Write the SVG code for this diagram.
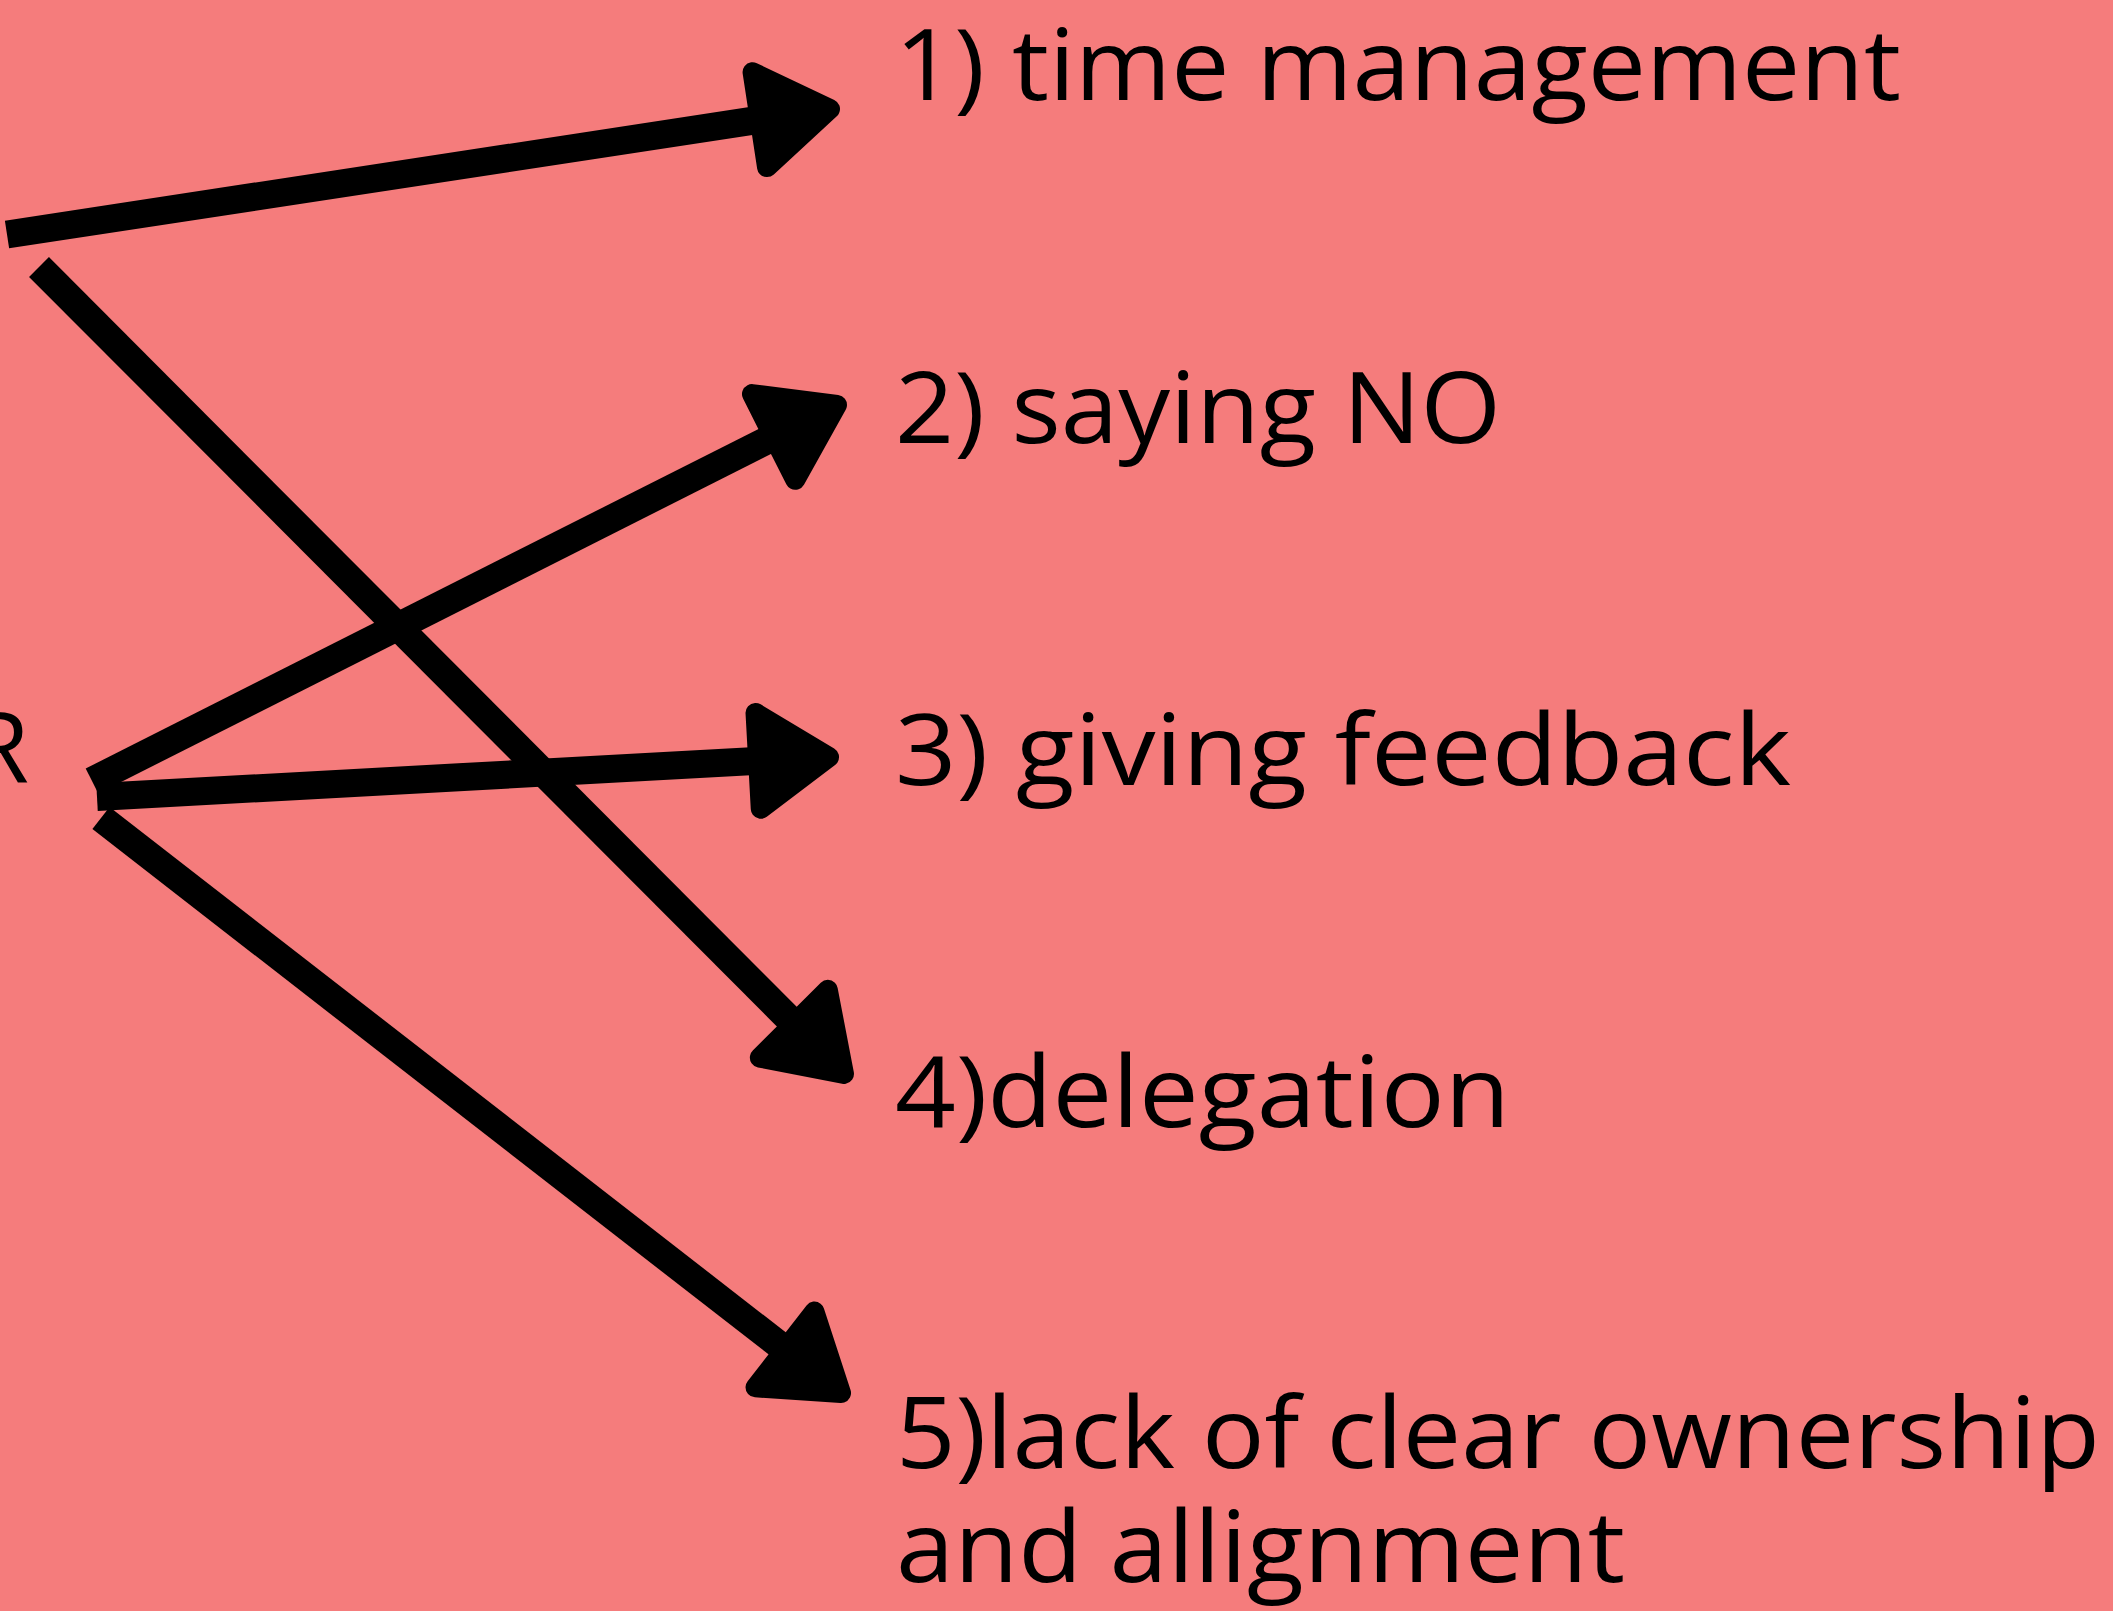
<svg xmlns="http://www.w3.org/2000/svg" width="2113" height="1611" viewBox="0 0 2113 1611">
  <style>
    .bg { fill: #F57C7C; }
    .label { font-family: "Open Sans", "Noto Sans", sans-serif; font-size: 98px; fill: #000; }
    .link { fill: none; stroke: #000; stroke-width: 28; stroke-linecap: butt; marker-end: url(#head); }
  </style>
  <defs>
    <!-- rounded triangular arrowhead; refX sits inside the head so the line end is hidden -->
    <marker id="head" markerUnits="userSpaceOnUse" markerWidth="130" markerHeight="150"
            viewBox="-25 -75 130 150" refX="27" refY="0" orient="auto" overflow="visible">
      <path d="M0,-48 L71,0 L0,48 Z" fill="#000" stroke="#000" stroke-width="20" stroke-linejoin="round"/>
    </marker>
  </defs>

  <rect class="bg" x="0" y="0" width="2113" height="1611"/>

  <!-- source label, mostly off the left edge -->
  <g id="source">
    <text class="label" x="29" y="783" text-anchor="end">R</text>
  </g>

  <g id="connectors">
    <line class="link" x1="7" y1="234.5" x2="786.5" y2="115.6"/>
    <line class="link" x1="39" y1="267" x2="812.9" y2="1042.8"/>
    <line class="link" x1="92" y1="781" x2="797.7" y2="424.8"/>
    <line class="link" x1="97" y1="797" x2="785.1" y2="759.4"/>
    <line class="link" x1="101" y1="818" x2="806.3" y2="1366"/>
  </g>

  <g id="item-1">
    <text class="label" x="895" y="100" textLength="1006" lengthAdjust="spacingAndGlyphs">1) time management</text>
  </g>
  <g id="item-2">
    <text class="label" x="895" y="443" textLength="606" lengthAdjust="spacingAndGlyphs">2) saying NO</text>
  </g>
  <g id="item-3">
    <text class="label" x="895" y="785" textLength="896" lengthAdjust="spacingAndGlyphs">3) giving feedback</text>
  </g>
  <g id="item-4">
    <text class="label" x="895" y="1127" textLength="615" lengthAdjust="spacingAndGlyphs">4)delegation</text>
  </g>
  <g id="item-5">
    <text class="label">
      <tspan x="896" y="1468" textLength="1204" lengthAdjust="spacingAndGlyphs">5)lack of clear ownership</tspan>
      <tspan x="896" y="1582" textLength="729" lengthAdjust="spacingAndGlyphs">and allignment</tspan>
    </text>
  </g>
</svg>
